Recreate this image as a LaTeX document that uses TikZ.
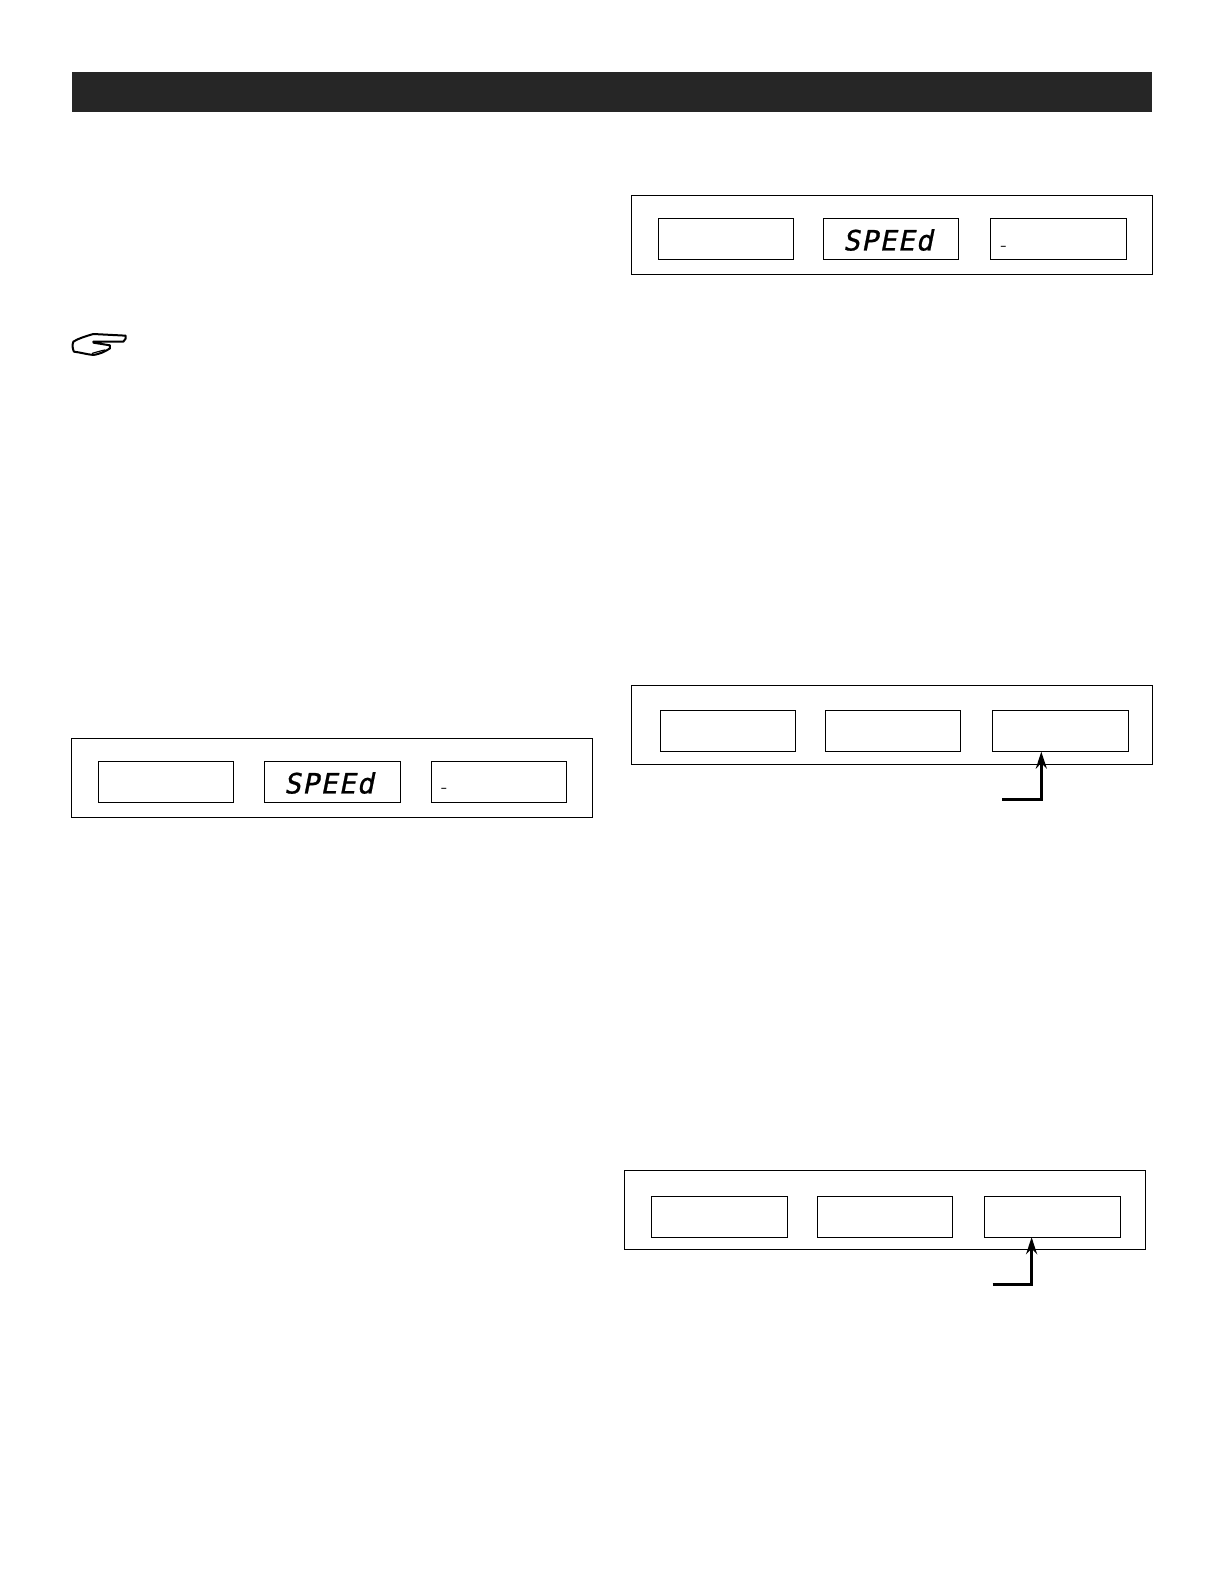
\documentclass[tikz,border=0pt]{standalone}
\usepackage{fontspec}
\setmainfont{Liberation Sans}
\newfontfamily\segfont[LetterSpace=5,FakeBold=0.8]{DejaVu Sans Mono}
\usetikzlibrary{arrows.meta}
\definecolor{hdr}{HTML}{262626}
\tikzset{
  panel/.style={draw=black,line width=1pt,fill=white,inner sep=0pt,outer sep=0pt},
  readout/.style={draw=black,line width=1pt,fill=white,inner sep=0pt,outer sep=0pt,minimum width=135.5pt,minimum height=40.5pt},
  segtext/.style={inner sep=0pt,outer sep=0pt,font=\segfont\fontsize{28}{28}\selectfont,xslant=0.2},
  dashtext/.style={inner sep=0pt,outer sep=0pt,font=\bfseries\fontsize{10}{10}\selectfont},
  callout/.style={draw=black,line width=3pt,-{Stealth[length=17pt,width=11pt]}},
  handline/.style={draw=black,line width=2pt,line join=round,line cap=round}
}
\begin{document}
\begin{tikzpicture}[x=1pt,y=-1pt]
\useasboundingbox (0,0) rectangle (1224,1584);
\fill[white] (0,0) rectangle (1224,1584);
% header
\node[fill=hdr,inner sep=0pt,outer sep=0pt,minimum width=1080.6pt,minimum height=40.4pt] (header) at (612,91.9) {};
% hand
\begin{scope}[shift={(60,320)},x=0.3333pt,y=-0.3333pt]
\draw[handline] (100,65) -- (190,65) .. controls (197,60) and (199,52) .. (197,47)
  -- (100,42) .. controls (80,48) and (55,55) .. (40,65)
  .. controls (36,75) and (38,88) .. (42,95)
  .. controls (60,97) and (80,103) .. (100,105)
  .. controls (120,102) and (135,95) .. (150,85)
  -- (150,76) -- (100,68);
\draw[handline,line width=1.2pt] (97,100) .. controls (110,96) and (125,92) .. (135,90);
\draw[handline,line width=1.2pt] (108,104) .. controls (115,100) and (122,99) .. (130,96);
\end{scope}
% top right panel
\node[panel,minimum width=521.1pt,minimum height=78.8pt] (panelA) at (891.75,234.8) {};
\node[readout] (a1) at (726.1,239.2) {};
\node[readout] (a2) at (891.2,239.2) {};
\node[readout] (a3) at (1058.4,239.2) {};
\node[segtext] (a2t) at (890,240) {SPEEd};
\node[dashtext,anchor=west] (a3t) at (1000.5,248) {–};
% left panel
\node[panel,minimum width=521.6pt,minimum height=78.8pt] (panelB) at (332,777.6) {};
\node[readout] (b1) at (166.2,782.2) {};
\node[readout] (b2) at (332.3,782.2) {};
\node[readout] (b3) at (498.9,782.2) {};
\node[segtext] (b2t) at (331,783) {SPEEd};
\node[dashtext,anchor=west] (b3t) at (441,790) {–};
% middle right panel
\node[panel,minimum width=521.1pt,minimum height=79.3pt] (panelC) at (891.75,724.85) {};
\node[readout] (c1) at (728,731.2) {};
\node[readout] (c2) at (893.2,731.2) {};
\node[readout] (c3) at (1060.3,731.2) {};
\coordinate (cstart) at (1002,799.8);
\coordinate (ctip) at (1041.3,751.6);
\draw[callout] (cstart) -| (ctip);
% bottom right panel
\node[panel,minimum width=521.7pt,minimum height=79.3pt] (panelD) at (884.85,1209.65) {};
\node[readout] (d1) at (719.5,1216.9) {};
\node[readout] (d2) at (885,1216.9) {};
\node[readout] (d3) at (1052.3,1216.9) {};
\coordinate (dstart) at (992.7,1284.4);
\coordinate (dtip) at (1031.6,1237.2);
\draw[callout] (dstart) -| (dtip);
\end{tikzpicture}
\end{document}
